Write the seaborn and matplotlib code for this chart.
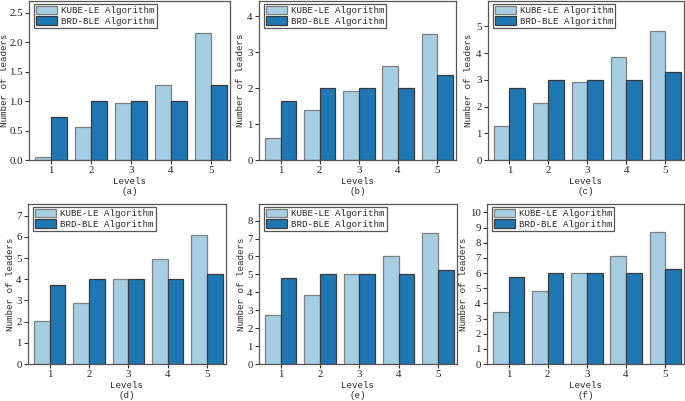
import pandas as pd
import matplotlib
matplotlib.use('Agg')
import matplotlib.pyplot as plt
import seaborn as sns

sns.set_style('ticks')
plt.rcParams['font.family'] = ['Liberation Mono', 'DejaVu Sans Mono']
plt.rcParams['font.size'] = 6.6

# values
levels = ['1', '2', '3', '4', '5']
algorithms = ['KUBE-LE Algorithm', 'BRD-BLE Algorithm']
panel_names = ['(a)', '(b)', '(c)', '(d)', '(e)', '(f)']

kube_a = [0.05, 0.56, 0.96, 1.28, 2.15]
brd_a = [0.73, 1.00, 1.00, 1.00, 1.27]
kube_b = [0.60, 1.38, 1.93, 2.62, 3.50]
brd_b = [1.63, 2.00, 2.00, 2.00, 2.38]
kube_c = [1.27, 2.15, 2.92, 3.85, 4.83]
brd_c = [2.70, 3.00, 3.00, 3.00, 3.30]
kube_d = [2.05, 2.90, 4.00, 4.97, 6.08]
brd_d = [3.75, 4.00, 4.00, 4.00, 4.25]
kube_e = [2.72, 3.83, 5.00, 6.05, 7.33]
brd_e = [4.78, 5.00, 5.00, 5.00, 5.22]
kube_f = [3.45, 4.80, 5.98, 7.10, 8.68]
brd_f = [5.73, 6.00, 6.00, 6.00, 6.27]

kube_all = [kube_a, kube_b, kube_c, kube_d, kube_e, kube_f]
brd_all = [brd_a, brd_b, brd_c, brd_d, brd_e, brd_f]

y_tops = [2.7, 4.43, 5.95, 7.55, 8.93, 10.55]
y_ticks = [
    [0.0, 0.5, 1.0, 1.5, 2.0, 2.5],
    [0, 1, 2, 3, 4],
    [0, 1, 2, 3, 4, 5],
    [0, 1, 2, 3, 4, 5, 6, 7],
    [0, 1, 2, 3, 4, 5, 6, 7, 8],
    [0, 1, 2, 3, 4, 5, 6, 7, 8, 9, 10],
]

colors = ['#a6cee3', '#1f78b4']

W, H = 685, 401
# axes boxes in pixels: left, top, right, bottom
boxes = [
    (29, 1, 230, 160),
    (259, 1, 456, 160),
    (488, 1, 684, 160),
    (28, 204, 226, 364),
    (259, 204, 457, 364),
    (487, 204, 684, 364),
]
# x pixel of the right edge of the y label in each panel
ylabel_x = [9, 245, 473, 15, 246, 468]

fig = plt.figure(figsize=(W / 100, H / 100), dpi=100)

for i in range(6):
    l, t, r, b = boxes[i]
    ax = fig.add_axes([l / W, 1 - b / H, (r - l) / W, (b - t) / H])
    df = pd.DataFrame({
        'Levels': levels * 2,
        'Number': kube_all[i] + brd_all[i],
        'Algorithm': [algorithms[0]] * 5 + [algorithms[1]] * 5,
    })
    sns.barplot(data=df, x='Levels', y='Number', hue='Algorithm',
                palette=colors, edgecolor='#3a3a3a', linewidth=0.9,
                saturation=1, ax=ax)
    for bar in ax.patches:
        if bar.get_facecolor()[:3] == matplotlib.colors.to_rgb(colors[0]):
            bar.set_edgecolor('#7f7f7f')
    ax.set_xlim(-0.55, 4.48)
    ax.set_ylim(0, y_tops[i])
    ax.set_yticks(y_ticks[i])
    if i == 0:
        ax.set_yticklabels(['%.1f' % v for v in y_ticks[i]])
    ax.set_xlabel('Levels\n' + panel_names[i], labelpad=1, linespacing=1.2)
    ax.set_ylabel('Number of leaders')
    ax.yaxis.set_label_coords((ylabel_x[i] - l) / (r - l), 0.5)
    ax.tick_params(direction='out', length=3, width=0.8, pad=1.5,
                   colors='#333333', labelcolor='#222222')
    for lab in ax.get_xticklabels() + ax.get_yticklabels():
        lab.set_fontfamily(['Liberation Serif', 'DejaVu Serif'])
        lab.set_fontsize(7.8)
    for s in ax.spines.values():
        s.set_visible(True)
        s.set_color('#555555')
        s.set_linewidth(0.9)
    handles, labels = ax.get_legend_handles_labels()
    leg = ax.legend(handles, labels, loc='upper left',
                    bbox_to_anchor=(0.012, 1.0), fancybox=False,
                    framealpha=1, edgecolor='#555555', handlelength=2.3,
                    handleheight=1.1, labelspacing=0.12, handletextpad=0.45,
                    borderpad=0.2, borderaxespad=0.3)
    leg.get_frame().set_linewidth(0.9)

fig.savefig('out.png', dpi=100)
